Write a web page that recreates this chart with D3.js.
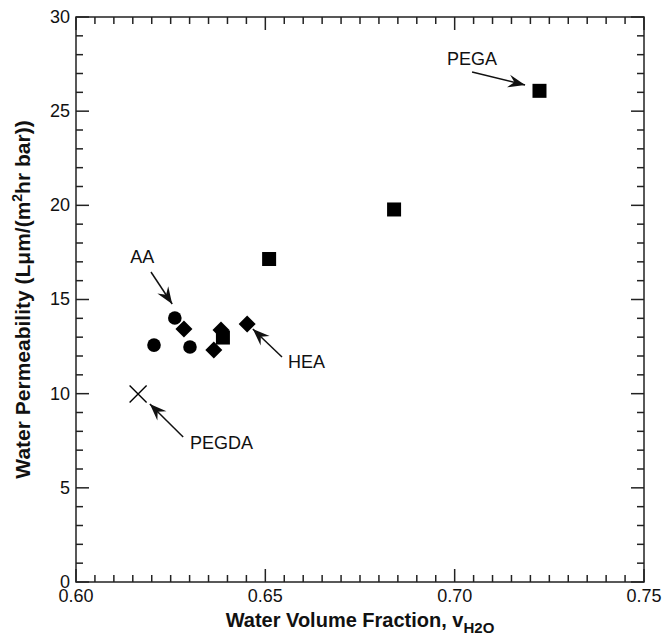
<!DOCTYPE html>
<html>
<head>
<meta charset="utf-8">
<script src="https://d3js.org/d3.v7.min.js"></script>
<style>
  body { margin: 0; background: #fff; }
  text { font-family: "Liberation Sans", Arial, sans-serif; fill: #111; }
</style>
</head>
<body>
<script>
// data
const circleX = [0.6206, 0.6261, 0.6301];
const circleY = [12.58, 14.02, 12.48];
const diamondX = [0.6285, 0.6364, 0.6383, 0.6452];
const diamondY = [13.43, 12.32, 13.38, 13.70];
const squareX = [0.6388, 0.6510, 0.6840, 0.7224];
const squareY = [12.98, 17.15, 19.78, 26.08];
const crossX = [0.6164];
const crossY = [9.98];

// annotation labels: text start, then arrow tail -> tip (data units)
const noteText = ["PEGA", "AA", "HEA", "PEGDA"];
const noteX = [0.6980, 0.6143, 0.6560, 0.6301];
const noteY = [27.45, 16.94, 11.36, 7.06];
const arrowX0 = [0.7046, 0.6198, 0.6544, 0.6283];
const arrowY0 = [27.08, 16.46, 11.95, 7.70];
const arrowX1 = [0.7186, 0.6254, 0.6467, 0.6195];
const arrowY1 = [26.39, 14.76, 13.43, 9.45];

const xTicks = [0.60, 0.65, 0.70, 0.75];
const yTicks = [0, 5, 10, 15, 20, 25, 30];

const W = 662, H = 640;
const margin = {top: 17, right: 18, bottom: 58, left: 76};
const width = W - margin.left - margin.right,
      height = H - margin.top - margin.bottom;

const svg = d3.select("body").append("svg")
    .attr("width", W)
    .attr("height", H);

const defs = svg.append("defs");
defs.append("marker")
    .attr("id", "head")
    .attr("markerUnits", "userSpaceOnUse")
    .attr("viewBox", "-18 -8 20 16")
    .attr("markerWidth", 20)
    .attr("markerHeight", 16)
    .attr("refX", 0)
    .attr("refY", 0)
    .attr("orient", "auto")
    .append("path")
    .attr("d", "M0,0 L-17,-6.5 L-11,0 L-17,6.5 Z")
    .attr("fill", "#111");

const g = svg.append("g")
    .attr("transform", "translate(" + margin.left + "," + margin.top + ")");

const xScale = d3.scaleLinear().domain([0.60, 0.75]).range([0, width]);
const yScale = d3.scaleLinear().domain([0, 30]).range([height, 0]);

// minor / major ticks, inward on all four sides
const xMinor = d3.range(0, 31).map(i => 0.60 + i * 0.005);
const yMinor = d3.range(0, 31);
const MAJ = 13, MIN = 7;

function isMajorX(v) { return Math.abs(v * 20 - Math.round(v * 20)) < 1e-6; }

const axisColor = "#222";

xMinor.forEach(function(v) {
    var len = isMajorX(v) ? MAJ : MIN;
    g.append("line")
        .attr("x1", xScale(v)).attr("x2", xScale(v))
        .attr("y1", height).attr("y2", height - len)
        .attr("stroke", axisColor).attr("stroke-width", 1.5);
    g.append("line")
        .attr("x1", xScale(v)).attr("x2", xScale(v))
        .attr("y1", 0).attr("y2", len)
        .attr("stroke", axisColor).attr("stroke-width", 1.5);
});

yMinor.forEach(function(v) {
    var len = (v % 5 === 0) ? MAJ : MIN;
    g.append("line")
        .attr("x1", 0).attr("x2", len)
        .attr("y1", yScale(v)).attr("y2", yScale(v))
        .attr("stroke", axisColor).attr("stroke-width", 1.5);
    g.append("line")
        .attr("x1", width).attr("x2", width - len)
        .attr("y1", yScale(v)).attr("y2", yScale(v))
        .attr("stroke", axisColor).attr("stroke-width", 1.5);
});

// frame
g.append("rect")
    .attr("x", 0).attr("y", 0)
    .attr("width", width).attr("height", height)
    .attr("fill", "none")
    .attr("stroke", axisColor)
    .attr("stroke-width", 1.5);

// tick labels
g.selectAll(".xlab")
    .data(xTicks)
    .enter()
    .append("text")
    .attr("class", "xlab")
    .attr("x", d => xScale(d))
    .attr("y", height + 20)
    .attr("text-anchor", "middle")
    .attr("font-size", "18px")
    .text(d => d3.format(".2f")(d));

g.selectAll(".ylab")
    .data(yTicks)
    .enter()
    .append("text")
    .attr("class", "ylab")
    .attr("x", -6)
    .attr("y", d => yScale(d))
    .attr("dy", "0.33em")
    .attr("text-anchor", "end")
    .attr("font-size", "18px")
    .text(d => d);

// axis titles
const xt = svg.append("text")
    .attr("x", margin.left + width / 2)
    .attr("y", 627)
    .attr("text-anchor", "middle")
    .attr("font-size", "20px")
    .attr("font-weight", "bold");
xt.append("tspan").text("Water Volume Fraction, v");
xt.append("tspan").attr("dy", 6).attr("font-size", "15px").text("H2O");

const yt = svg.append("text")
    .attr("transform", "translate(30," + (margin.top + height / 2) + ")rotate(-90)")
    .attr("text-anchor", "middle")
    .attr("font-size", "21px")
    .attr("font-weight", "bold");
yt.append("tspan").text("Water Permeability (L\u03bcm/(m");
yt.append("tspan").attr("dy", -8).attr("font-size", "14px").text("2");
yt.append("tspan").attr("dy", 8).text("hr bar))");

// markers
g.selectAll(".circ")
    .data(circleX)
    .enter()
    .append("circle")
    .attr("class", "circ")
    .attr("cx", d => xScale(d))
    .attr("cy", (d, i) => yScale(circleY[i]))
    .attr("r", 6.8)
    .attr("fill", "#000");

g.selectAll(".sq")
    .data(squareX)
    .enter()
    .append("rect")
    .attr("class", "sq")
    .attr("x", d => xScale(d) - 7)
    .attr("y", (d, i) => yScale(squareY[i]) - 7)
    .attr("width", 14)
    .attr("height", 14)
    .attr("fill", "#000");

g.selectAll(".dia")
    .data(diamondX)
    .enter()
    .append("path")
    .attr("class", "dia")
    .attr("transform", (d, i) => "translate(" + xScale(d) + "," + yScale(diamondY[i]) + ")")
    .attr("d", "M0,-8.5 L8.5,0 L0,8.5 L-8.5,0 Z")
    .attr("fill", "#000");

g.selectAll(".cross")
    .data(crossX)
    .enter()
    .append("path")
    .attr("class", "cross")
    .attr("transform", (d, i) => "translate(" + xScale(d) + "," + yScale(crossY[i]) + ")")
    .attr("d", "M-8.5,-8.5 L8.5,8.5 M-8.5,8.5 L8.5,-8.5")
    .attr("stroke", "#000")
    .attr("stroke-width", 1.4)
    .attr("fill", "none");

// annotations
g.selectAll(".arrow")
    .data(noteText)
    .enter()
    .append("line")
    .attr("class", "arrow")
    .attr("x1", (d, i) => xScale(arrowX0[i]))
    .attr("y1", (d, i) => yScale(arrowY0[i]))
    .attr("x2", (d, i) => xScale(arrowX1[i]))
    .attr("y2", (d, i) => yScale(arrowY1[i]))
    .attr("stroke", "#111")
    .attr("stroke-width", 1.5)
    .attr("marker-end", "url(#head)");

g.selectAll(".note")
    .data(noteText)
    .enter()
    .append("text")
    .attr("class", "note")
    .attr("x", (d, i) => xScale(noteX[i]))
    .attr("y", (d, i) => yScale(noteY[i]))
    .attr("font-size", "18px")
    .text(d => d);
</script>
</body>
</html>
